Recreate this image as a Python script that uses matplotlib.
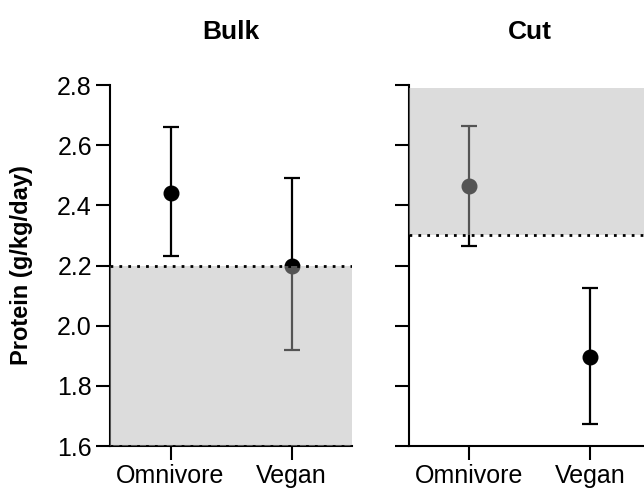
import matplotlib
matplotlib.use("Agg")
import matplotlib.pyplot as plt

plt.rcParams['font.family'] = ['Liberation Sans', 'DejaVu Sans']

categories = ["Omnivore", "Vegan"]
panels = ["Bulk", "Cut"]
means = {"Bulk": [2.44, 2.20], "Cut": [2.465, 1.895]}
lower = {"Bulk": [2.23, 1.92], "Cut": [2.265, 1.673]}
upper = {"Bulk": [2.66, 2.49], "Cut": [2.664, 2.124]}
band_lo = {"Bulk": 1.6, "Cut": 2.3}
band_hi = {"Bulk": 2.2, "Cut": 2.79}
dotted_at = {"Bulk": [2.2, 1.6], "Cut": [2.3]}
yticks = [1.6, 1.8, 2.0, 2.2, 2.4, 2.6, 2.8]

W, H = 644, 490
fig = plt.figure(figsize=(W / 100, H / 100), dpi=100)

ax_w = 242 / W
ax_b = (H - 446) / H
ax_h = (446 - 85) / H
lefts = [110 / W, 409 / W]

for i, name in enumerate(panels):
    ax = fig.add_axes([lefts[i], ax_b, ax_w, ax_h])
    x = list(range(len(categories)))
    m = means[name]
    yerr = [[m[k] - lower[name][k] for k in x], [upper[name][k] - m[k] for k in x]]
    ax.errorbar(x, m, yerr=yerr, fmt='o', color='black', ecolor='black',
                markersize=10.5, capsize=6, elinewidth=1.6, capthick=1.6, zorder=2)
    ax.axhspan(band_lo[name], band_hi[name], color='#b6b6b6', alpha=0.467,
               lw=0, zorder=3)
    for yv in dotted_at[name]:
        ax.axhline(yv, color='black', ls=(0, (1, 2.2)), lw=2, zorder=4)
    ax.set_xlim(-0.5, 1.5)
    ax.set_ylim(1.6, 2.8)
    ax.set_yticks(yticks)
    ax.set_xticks(x)
    ax.set_xticklabels(categories, fontsize=18)
    ax.spines['top'].set_visible(False)
    ax.spines['right'].set_visible(False)
    for s in ['left', 'bottom']:
        ax.spines[s].set_linewidth(1.5)
    ax.tick_params(axis='both', length=10, width=1.5, labelsize=18, pad=3)
    ax.set_title(name, fontsize=19, fontweight='bold', pad=33)
    if i == 0:
        ax.set_yticklabels([f"{v:.1f}" for v in yticks])
        ax.set_ylabel("Protein (g/kg/day)", fontsize=17, fontweight='bold')
        ax.yaxis.set_label_coords(-0.318, 0.5)
    else:
        ax.set_yticklabels([])

fig.savefig("out.png", dpi=100)
